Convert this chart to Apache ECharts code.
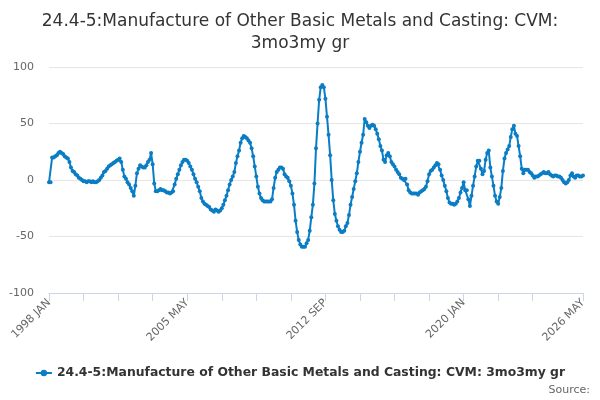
<!DOCTYPE html>
<html>
<head>
<meta charset="utf-8">
<script src="https://cdn.jsdelivr.net/npm/echarts@6/dist/echarts.min.js"></script>
<style>
  html, body { margin: 0; padding: 0; background: #fff; }
  #chart { width: 600px; height: 400px; }
</style>
</head>
<body>
<div id="chart"></div>
<script>
// monthly, 1998 JAN .. 2026 MAY
const monthNames = ['JAN', 'FEB', 'MAR', 'APR', 'MAY', 'JUN', 'JUL', 'AUG', 'SEP', 'OCT', 'NOV', 'DEC']
const startYear = 1998
const monthCount = 341

const seriesName = '24.4-5:Manufacture of Other Basic Metals and Casting: CVM: 3mo3my gr'

const values = [
  -2, -2, 20, 20, 21, 22, 24, 25, 24, 23, 21, 20,
  19, 16, 11, 8, 7, 5, 4, 2, 1, 0, -1, -1,
  -2, -1, -1, -2, -1, -2, -2, -1, 0, 2, 4, 7,
  8, 10, 12, 13, 14, 15, 16, 17, 18, 19, 16, 9,
  3, 1, -2, -4, -7, -10, -14, -5, 6, 10, 13, 12,
  11, 11, 13, 16, 18, 24, 14, -3, -10, -10, -9, -8,
  -9, -9, -10, -11, -11, -12, -11, -10, -4, 1, 5, 9,
  13, 16, 18, 18, 17, 15, 12, 9, 5, 1, -2, -6,
  -10, -16, -19, -21, -22, -23, -24, -26, -27, -28, -26, -27,
  -28, -27, -25, -22, -18, -14, -9, -4, 0, 3, 7, 15,
  21, 26, 33, 37, 39, 38, 37, 35, 33, 28, 21, 12,
  3, -6, -12, -16, -18, -19, -19, -19, -19, -19, -17, -7,
  2, 7, 9, 11, 11, 10, 5, 3, 2, -1, -5, -12,
  -22, -36, -46, -53, -57, -59, -59, -59, -56, -53, -45, -33,
  -22, -3, 28, 50, 71, 82, 84, 82, 72, 56, 40, 22,
  0, -18, -30, -36, -41, -44, -46, -46, -45, -41, -38, -31,
  -22, -15, -8, -1, 6, 16, 25, 33, 40, 54, 51, 48,
  46, 48, 49, 48, 45, 41, 36, 30, 26, 18, 16, 22,
  24, 21, 16, 14, 12, 9, 7, 5, 2, 1, 0, 1,
  -4, -9, -11, -12, -12, -12, -12, -13, -11, -10, -9, -8,
  -6, -1, 5, 8, 9, 11, 13, 15, 14, 9, 4, 0,
  -5, -10, -16, -20, -21, -21, -22, -21, -19, -16, -11, -7,
  -2, -9, -9, -17, -23, -14, -5, 3, 12, 17, 17, 10,
  5, 8, 18, 24, 26, 11, 3, -5, -14, -19, -21, -15,
  -7, 8, 19, 24, 27, 30, 38, 45, 48, 41, 39, 30,
  21, 10, 6, 9, 9, 9, 7, 6, 4, 2, 3, 3,
  4, 5, 6, 7, 6, 6, 7, 5, 4, 3, 4, 4,
  3, 3, 2, 0, -2, -3, -2, 0, 4, 6, 3, 2,
  4, 4, 3, 3, 4
]

const yTicks = { min: -100, max: 100, step: 50 }

const categories = []
for (let i = 0; i < monthCount; i++) {
  categories.push((startYear + Math.floor(i / 12)) + ' ' + monthNames[i % 12])
}

const lastIdx = categories.length - 1
const chart = echarts.init(document.getElementById('chart'))

// ticks every 22 months, the one too close to the end is dropped
const showTick = (idx) => idx === lastIdx || (idx % 22 === 0 && lastIdx - idx > 20)

chart.setOption({
  animation: false,
  textStyle: { fontFamily: 'DejaVu Sans' },
  title: {
    text: '24.4-5:Manufacture of Other Basic Metals and Casting: CVM:\n3mo3my gr',
    left: 'center',
    top: 6,
    textStyle: {
      fontFamily: 'DejaVu Sans',
      fontSize: 17,
      fontWeight: 'normal',
      color: '#333',
      lineHeight: 22,
    },
  },
  legend: {
    bottom: 16,
    left: 'center',
    itemWidth: 16,
    itemHeight: 8,
    textStyle: {
      fontFamily: 'DejaVu Sans',
      fontSize: 12.4,
      fontWeight: 'bold',
      color: '#333',
    },
    data: [seriesName],
  },
  graphic: [{
    type: 'text',
    right: 10,
    bottom: 4,
    style: {
      text: 'Source:',
      fontFamily: 'DejaVu Sans',
      fontSize: 11,
      fill: '#666',
    },
  }],
  grid: { left: 49, right: 17, top: 67, bottom: 107 },
  xAxis: {
    type: 'category',
    boundaryGap: false,
    data: categories,
    axisLine: { onZero: false, lineStyle: { color: '#ccd6eb' } },
    axisTick: {
      length: 8,
      lineStyle: { color: '#ccd6eb' },
      interval: showTick,
    },
    axisLabel: {
      rotate: 45,
      color: '#666',
      fontSize: 11,
      margin: 8,
      interval: (idx) => idx % 88 === 0 || idx === lastIdx,
    },
    splitLine: { show: false },
  },
  yAxis: {
    type: 'value',
    min: yTicks.min,
    max: yTicks.max,
    interval: yTicks.step,
    axisLine: { show: false },
    axisTick: { show: false },
    axisLabel: { color: '#666', fontSize: 11, margin: 15 },
    splitLine: { lineStyle: { color: '#e6e6e6' } },
  },
  series: [{
    name: seriesName,
    type: 'line',
    data: values,
    color: '#0a7dc4',
    symbol: 'circle',
    symbolSize: 4,
    showAllSymbol: true,
    lineStyle: { width: 2 },
  }],
})
</script>
</body>
</html>
